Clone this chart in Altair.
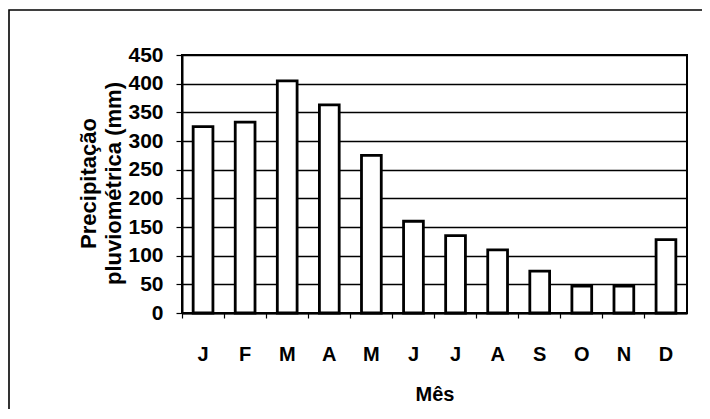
import altair as alt
import pandas as pd

months = ["J", "F", "M", "A", "M", "J", "J", "A", "S", "O", "N", "D"]
month_ids = [f"{i:02d}" for i in range(1, 13)]
rain_mm = [325, 333, 405, 363, 275, 160, 135, 110, 73, 47, 47, 128]

df = pd.DataFrame({"id": month_ids, "mes": months, "precip": rain_mm})

label_expr = "{" + ",".join(f"'{i}':'{m}'" for i, m in zip(month_ids, months)) + "}[datum.value]"

FONT = "Liberation Sans"

base = alt.Chart(df)

bars = base.mark_bar(
    fill="white", stroke="black", strokeWidth=2.8, width={"band": 0.47}
).encode(
    x=alt.X(
        "id:N",
        sort=month_ids,
        scale=alt.Scale(paddingInner=0, paddingOuter=0),
        axis=alt.Axis(
            title="Mês",
            labelExpr=label_expr,
            labelAngle=0,
            labelFont=FONT, labelFontSize=20, labelFontWeight="bold", labelColor="black",
            labelPadding=26,
            titleFont=FONT, titleFontSize=20, titleFontWeight="bold", titleColor="black",
            titlePadding=20,
            bandPosition=0,
            tickSize=5, tickColor="black", tickWidth=1.2,
            domainColor="black", domainWidth=2,
            grid=False,
        ),
    ),
    y=alt.Y(
        "precip:Q",
        scale=alt.Scale(domain=[0, 450], nice=False),
        axis=alt.Axis(
            title=["Precipitação", "pluviométrica (mm)"],
            values=list(range(0, 451, 50)),
            labelFont=FONT, labelFontSize=21, labelFontWeight="bold", labelColor="black",
            labelPadding=13,
            titleFont=FONT, titleFontSize=22, titleFontWeight="bold", titleColor="black",
            titleAngle=270, titleAlign="center", titleBaseline="middle",
            titleX=-94, titleY=128, titleLineHeight=25,
            tickSize=6, tickColor="black", tickWidth=1.2,
            domainColor="black", domainWidth=2,
            grid=True, gridColor="black", gridWidth=1.3, gridOpacity=1,
        ),
    ),
)

frame = alt.Chart(pd.DataFrame({"k": [0]})).mark_rect(
    fill=None, stroke="black", strokeWidth=1.6, clip=False
).encode(
    x=alt.value(-173), x2=alt.value(540),
    y=alt.value(-45), y2=alt.value(380),
)

chart = alt.layer(bars, frame).properties(
    width=505, height=258,
    padding={"left": 174, "top": 47, "right": 15, "bottom": 96},
    autosize=alt.AutoSizeParams(type="none"),
    background="white",
).configure_view(
    stroke="black", strokeWidth=2
)

chart.save("out.html", embed_options={"renderer": "svg", "actions": False})
